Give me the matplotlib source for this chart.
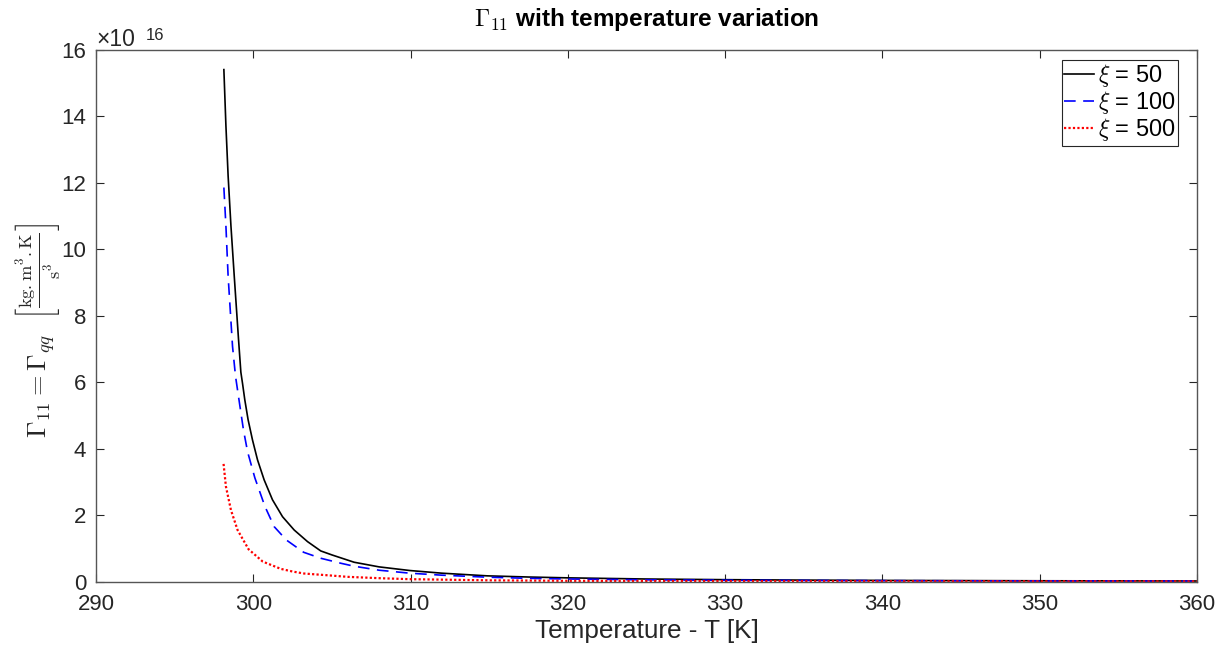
import matplotlib
matplotlib.use("Agg")
import matplotlib.pyplot as plt

plt.rcParams['font.family'] = ['Liberation Sans', 'DejaVu Sans']
plt.rcParams['mathtext.fontset'] = 'cm'

# Values in units of 1e16
T_xi50 = [298.13, 298.26, 298.40, 298.58, 298.79, 299.06, 299.21, 299.32, 299.46,
          299.67, 299.95, 300.27, 300.69, 301.22, 301.86, 302.60, 303.45, 304.29,
          305.0, 306.41, 308.0, 309.96, 312.0, 314.88, 317.5, 319.96,
          325.0, 330.0, 335.0, 340.0, 350.0, 360.0]
G_xi50 = [15.41, 13.72, 12.21, 10.70, 9.19, 7.30, 6.30, 5.95, 5.47,
          4.87, 4.26, 3.66, 3.06, 2.46, 1.95, 1.55, 1.20, 0.92,
          0.80, 0.58, 0.44, 0.33, 0.25, 0.17, 0.135, 0.11,
          0.075, 0.055, 0.042, 0.033, 0.022, 0.015]

T_xi100 = [298.13, 298.26, 298.40, 298.68, 298.87, 299.15, 299.38, 299.64, 300.10,
           300.74, 301.33, 302.10, 303.20, 304.29, 305.56, 306.41, 308.0, 309.96,
           312.0, 314.88, 317.5, 319.96, 325.0, 330.0, 340.0, 350.0, 360.0]
G_xi100 = [11.86, 10.70, 9.19, 7.08, 6.18, 5.28, 4.55, 3.90, 3.12,
           2.26, 1.65, 1.25, 0.88, 0.70, 0.55, 0.46, 0.34, 0.25,
           0.19, 0.13, 0.095, 0.075, 0.05, 0.038, 0.025, 0.017, 0.012]

T_xi500 = [298.11, 298.26, 298.58, 299.00, 299.70, 300.60, 301.75, 302.50, 303.23,
           304.93, 306.0, 308.0, 309.96, 315.0, 319.96, 330.0, 340.0, 350.0, 360.0]
G_xi500 = [3.54, 2.86, 2.15, 1.55, 0.97, 0.60, 0.38, 0.30, 0.24,
           0.18, 0.14, 0.10, 0.07, 0.035, 0.02, 0.012, 0.008, 0.005, 0.004]

labels = [r'$\xi$ = 50', r'$\xi$ = 100', r'$\xi$ = 500']
x_ticks = [290, 300, 310, 320, 330, 340, 350, 360]
y_ticks = [0, 2, 4, 6, 8, 10, 12, 14, 16]

W, H = 1227, 647
fig = plt.figure(figsize=(W / 100, H / 100), dpi=100)
ax = fig.add_axes([96 / W, 1 - 581.5 / H, (1197 - 96) / W, (581.5 - 50) / H])

axcol = '#262626'
ax.plot(T_xi50, G_xi50, color='black', lw=1.2, ls='-', label=labels[0])
ax.plot(T_xi100, G_xi100, color='#0000ff', lw=1.2, ls=(0, (7, 4.5)), label=labels[1])
ax.plot(T_xi500, G_xi500, color='#ff0000', lw=1.6, ls=(0, (1, 1)), label=labels[2])

ax.set_xlim(290, 360)
ax.set_ylim(0, 16)
ax.set_xticks(x_ticks)
ax.set_yticks(y_ticks)
ax.tick_params(direction='in', top=True, right=True, length=6, width=0.8,
               colors=axcol, labelsize=16)
ax.tick_params(axis='x', pad=9)
ax.tick_params(axis='y', pad=7)
for s in ax.spines.values():
    s.set_color('#555555')
    s.set_linewidth(1.0)

ax.set_xlabel('Temperature - T [K]', fontsize=18.8, color=axcol, labelpad=3)
ax.set_ylabel(r'$\Gamma_{11} = \Gamma_{qq}\ \ \left[\frac{\mathrm{kg.m^3.K}}{\mathrm{s^3}}\right]$',
              fontsize=19, color=axcol)
ax.yaxis.set_label_coords(-0.031, 0.473)
ax.set_title(r'$\Gamma_{\mathbf{11}}$ with temperature variation', fontsize=17.5,
             fontweight='bold', color='black', pad=17)

ax.text(0.0, 0.998, '×10', transform=ax.transAxes, fontsize=16.5, color=axcol,
        ha='left', va='bottom')
ax.text(0.045, 1.013, '16', transform=ax.transAxes, fontsize=12, color=axcol,
        ha='left', va='bottom')

leg = ax.legend(loc='upper right', fontsize=17, frameon=True, fancybox=False,
                edgecolor=axcol, framealpha=1, borderaxespad=0.0,
                bbox_to_anchor=(0.9828, 0.982), handlelength=1.25,
                handletextpad=0.15, borderpad=0.12, labelspacing=0.0)
leg.get_frame().set_linewidth(0.8)

fig.savefig('out.png', dpi=100)
